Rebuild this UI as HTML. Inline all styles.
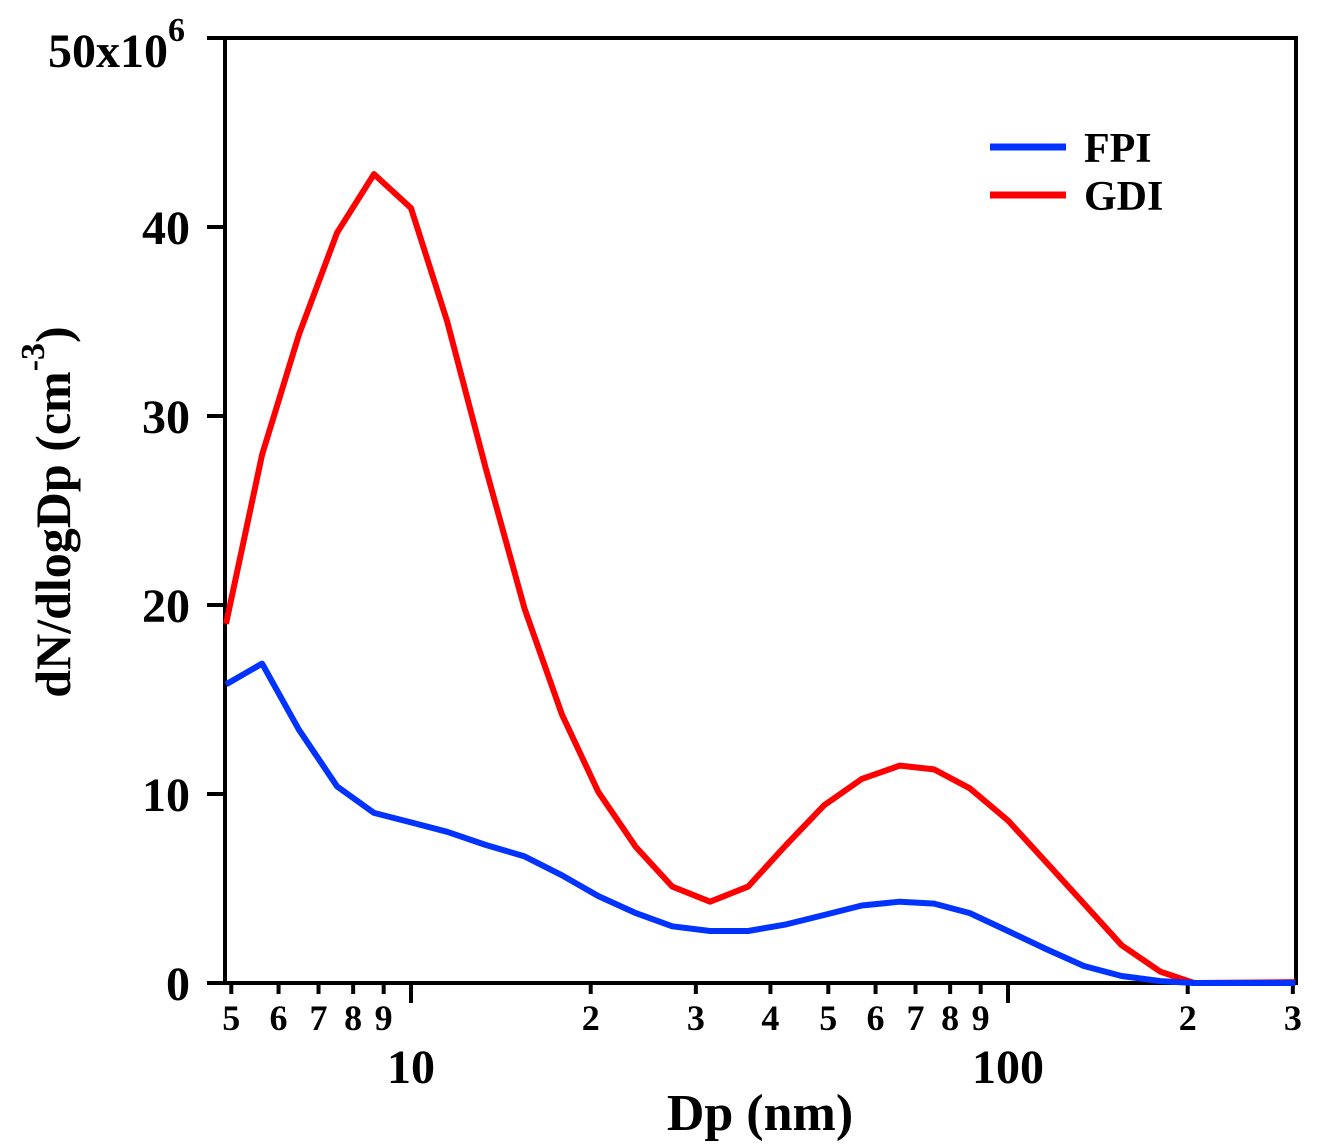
<!DOCTYPE html>
<html><head><meta charset="utf-8"><style>
body{margin:0;background:#fff}
svg text{font-family:"Liberation Serif",serif;font-weight:bold;fill:#000}
</style></head><body>
<svg width="1320" height="1142" id="c">
</svg>
<script>
const dpValues=[4.9,5.63,6.49,7.52,8.67,10,11.5,13.35,15.5,17.9,20.6,23.8,27.4,31.7,36.7,42.5,49.2,56.9,65.9,75.2,86.3,100,115.8,134,155,180,205,303];
const gdiValues=[19.0,27.96,34.3,39.7,42.8,41.0,35.0,27.2,19.8,14.2,10.1,7.2,5.1,4.3,5.1,7.3,9.4,10.8,11.5,11.3,10.3,8.6,6.4,4.2,2.0,0.6,0,0.05];
const fpiValues=[15.8,16.9,13.4,10.4,9.0,8.5,8.0,7.3,6.7,5.7,4.6,3.7,3.0,2.75,2.75,3.1,3.6,4.1,4.3,4.2,3.7,2.75,1.8,0.9,0.37,0.1,0,0];
const yTicks=[0,10,20,30,40];
const xMinor=[5,6,7,8,9,20,30,40,50,60,70,80,90,200,300];
const xMajor=[10,100];
const NS="http://www.w3.org/2000/svg";
const svg=document.getElementById('c');
const L=225,R=1296,T=38,B=983;
const X=v=>1008+(Math.log10(v)-2)*597;
const Y=v=>B-(v/50)*(B-T);
function mk(t,a,p){const e=document.createElementNS(NS,t);for(const k in a)e.setAttribute(k,a[k]);(p||svg).appendChild(e);return e;}
const frame=mk('rect',{x:L,y:T,width:R-L,height:B-T,fill:'none',stroke:'#000','stroke-width':4});


const xa=mk('line',{x1:207,y1:B,x2:R,y2:B,stroke:'#000','stroke-width':4});


yTicks.concat([50]).forEach(v=>{
 const l=mk('line',{x1:207,y1:Y(v),x2:L,y2:Y(v),stroke:'#000','stroke-width':4});
 
 
});
yTicks.forEach(v=>{
 const t=mk('text',{x:190,y:Y(v)+17,'font-size':48,'text-anchor':'end'});t.textContent=v;
 
 
});
const topLbl=mk('text',{x:48,y:67,'font-size':48});
topLbl.innerHTML='50x10<tspan dy="-26" font-size="34">6</tspan>';


xMinor.forEach(v=>{
 const l=mk('line',{x1:X(v),y1:B,x2:X(v),y2:B+11,stroke:'#000','stroke-width':4});
 
 
 const t=mk('text',{x:X(v),y:B+47,'font-size':36,'text-anchor':'middle'});t.textContent=String(v)[0];
 
 
});
xMajor.forEach(v=>{
 const l=mk('line',{x1:X(v),y1:B,x2:X(v),y2:B+20,stroke:'#000','stroke-width':4});
 
 
 const t=mk('text',{x:X(v),y:B+100,'font-size':48,'text-anchor':'middle'});t.textContent=v;
 
 
});
const xt=mk('text',{x:760,y:1130,'font-size':52,'text-anchor':'middle'});xt.textContent='Dp (nm)';


const yt=mk('text',{transform:'translate(70,512) rotate(-90)','font-size':50,'text-anchor':'middle'});
yt.innerHTML='dN/dlogDp (cm<tspan dy="-26" font-size="34">-3</tspan><tspan dy="26">)</tspan>';


function drawLine(vals,col,name){
 const d=vals.map((v,i)=>(i?'L':'M')+X(dpValues[i]).toFixed(1)+','+Y(v).toFixed(1)).join('');
 const p=mk('path',{d:d,fill:'none',stroke:col,'stroke-width':6,'stroke-linejoin':'round'});
 
 
}
drawLine(gdiValues,'#ff0000','gdi-line');
drawLine(fpiValues,'#0033ff','fpi-line');
[['FPI','#0033ff',147],['GDI','#ff0000',195]].forEach(([n,c,y])=>{
 const g=mk('g',{});
 
 
 mk('line',{x1:990,y1:y,x2:1066,y2:y,stroke:c,'stroke-width':7},g);
 const t=mk('text',{x:1084,y:y+15,'font-size':42},g);t.textContent=n;
});
</script>
</body></html>
